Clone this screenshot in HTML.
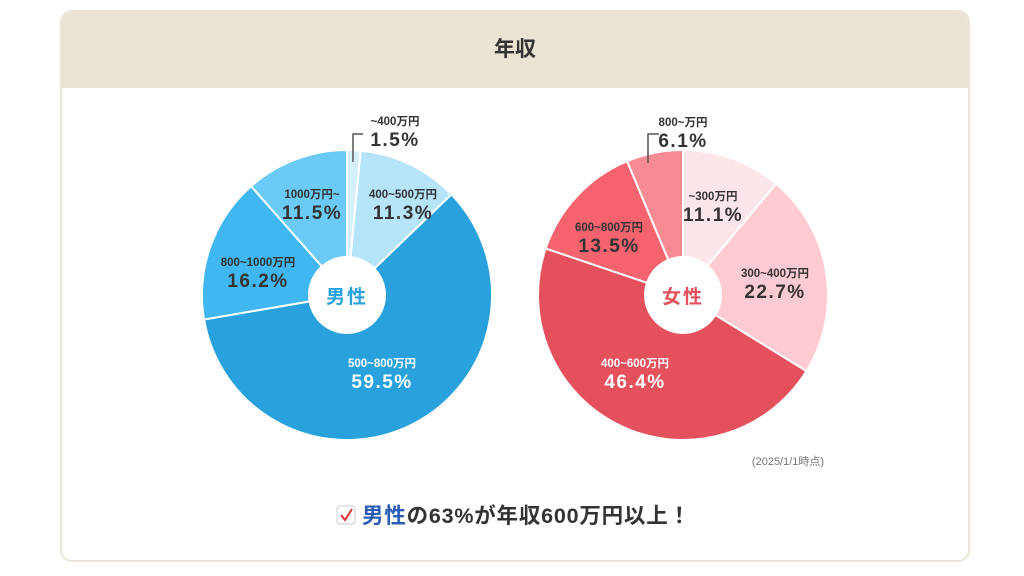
<!DOCTYPE html>
<html><head><meta charset="utf-8"><style>
html,body{margin:0;padding:0;background:#fff;width:1024px;height:576px;overflow:hidden;font-family:"Liberation Sans","Noto Sans CJK JP",sans-serif;}
.card{position:absolute;left:60px;top:10px;width:906px;height:548px;border:2px solid #ece5d8;border-radius:12px;overflow:hidden;background:#fff;}
.hd{position:absolute;left:0;top:0;width:100%;height:76px;background:#ebe3d4;text-align:center;line-height:76px;font-size:21px;font-weight:bold;color:#333;}
svg{position:absolute;left:0;top:0}
</style></head><body>
<div class="card"><div class="hd">年収</div></div>
<svg width="1024" height="576" id="s" font-family="Liberation Sans, Noto Sans CJK JP, sans-serif"></svg>
<script>
var s=document.getElementById('s'),h='';
function pie(cx,cy,r,ri,data){var a=0;data.forEach(function(d){var a0=a*3.6*Math.PI/180,a1=(a+d[0])*3.6*Math.PI/180;a+=d[0];
var x0=cx+r*Math.sin(a0),y0=cy-r*Math.cos(a0),x1=cx+r*Math.sin(a1),y1=cy-r*Math.cos(a1);
h+='<path d="M'+cx+' '+cy+'L'+x0+' '+y0+'A'+r+' '+r+' 0 '+(d[0]>50?1:0)+' 1 '+x1+' '+y1+'Z" fill="'+d[1]+'" stroke="#fff" stroke-width="2"/>';});
h+='<circle cx="'+cx+'" cy="'+cy+'" r="'+ri+'" fill="#fff"/>';}
pie(347,295,145,39,[[1.5,'#d6effc'],[11.3,'#b5e4fb'],[59.5,'#28a1dc'],[16.2,'#40b7f0'],[11.5,'#6ccbf6']]);
pie(683,295,145,39,[[11.1,'#fde6ea'],[22.7,'#fecbd2'],[46.4,'#e4505b'],[13.5,'#f4636e'],[6.3,'#f68b93']]);
function lab(x,y,a,b,c){h+='<text x="'+x+'" y="'+y+'" text-anchor="middle" font-size="11.5" font-weight="bold" fill="'+c+'">'+a+'</text><text x="'+x+'" y="'+(y+21)+'" text-anchor="middle" font-size="19" letter-spacing="1.5" font-weight="bold" fill="'+c+'">'+b+'</text>';}
var g='#333';
lab(395,125,'~400万円','1.5%',g);lab(403,198,'400~500万円','11.3%',g);lab(312,198,'1000万円~','11.5%',g);
lab(258,266,'800~1000万円','16.2%',g);lab(382,367,'500~800万円','59.5%','#fff');
lab(683,126,'800~万円','6.1%',g);lab(713,200,'~300万円','11.1%',g);lab(775,277,'300~400万円','22.7%',g);
lab(609,231,'600~800万円','13.5%',g);lab(635,367,'400~600万円','46.4%','#fff');
h+='<path d="M353 162V134H363M648 163V134H659" fill="none" stroke="#555" stroke-width="1.5"/>';
h+='<text x="347" y="303" text-anchor="middle" font-size="19" letter-spacing="2" font-weight="bold" fill="#28a1dc">男性</text>';
h+='<text x="683" y="303" text-anchor="middle" font-size="19" letter-spacing="2" font-weight="bold" fill="#e4505b">女性</text>';
h+='<text x="788" y="465" text-anchor="middle" font-size="11" fill="#777">(2025/1/1時点)</text>';
h+='<rect x="337" y="506" width="18" height="18" rx="3" fill="#fff" stroke="#ccc"/><path d="M341 515l4 5 7-11" fill="none" stroke="#d33" stroke-width="2"/>';
h+='<text x="362" y="523" font-size="21.5" font-weight="bold" fill="#333" textLength="328"><tspan fill="#2a5bb5">男性</tspan>の63%が年収600万円以上！</text>';
s.innerHTML=h;
</script>
</body></html>
